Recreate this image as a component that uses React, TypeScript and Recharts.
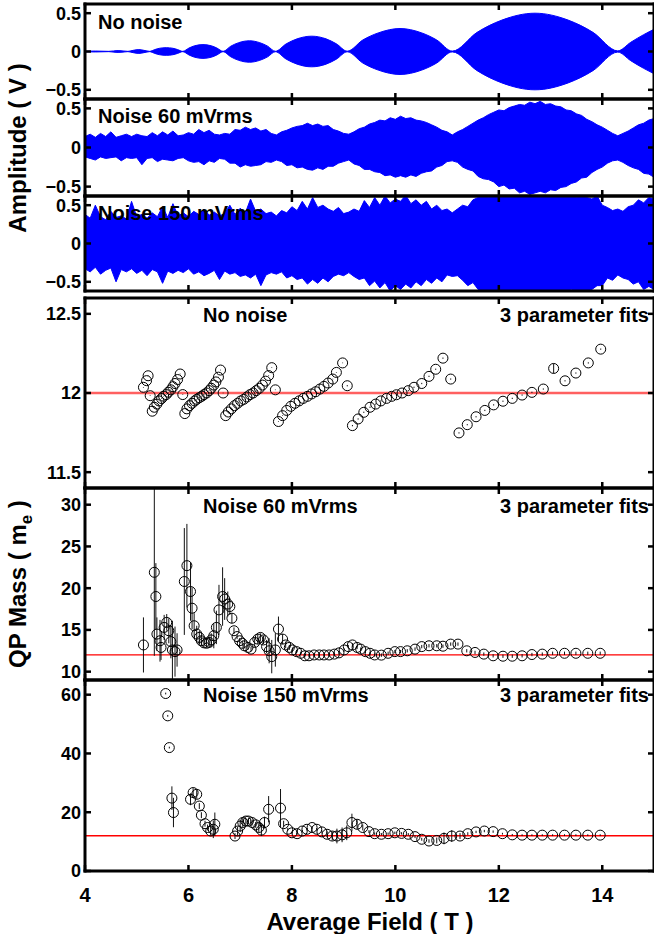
import React from 'react'
import { Area, ComposedChart, ErrorBar, ReferenceLine, Scatter, XAxis, YAxis } from 'recharts'

const FONT = '"Liberation Sans", Arial, Helvetica, sans-serif'
const W = 654

const FIELD_TICKS = [4, 6, 8, 10, 12, 14]
const AMP_TICKS = [-0.5, 0, 0.5]
const MASS0_TICKS = [11.5, 12, 12.5]
const MASS60_TICKS = [10, 15, 20, 25, 30]
const MASS150_TICKS = [0, 20, 40, 60]
const TRUE_MASS = 12

// clean trace: beat envelope (V)
const CLEAN_FIELD = [
  4.0, 4.2, 4.46, 4.64, 4.83, 4.93, 5.04, 5.14, 5.25, 5.35, 5.44, 5.57, 5.7, 5.79, 5.89,
  6.01, 6.12, 6.28, 6.44, 6.55, 6.67, 6.82, 6.97, 7.18, 7.38, 7.53, 7.68, 7.89, 8.1, 8.38,
  8.66, 8.86, 9.07, 9.37, 9.68, 10.09, 10.5, 10.8, 11.1, 11.58, 12.06, 12.7, 13.34, 13.82,
  14.3, 14.55, 14.8, 15.0,
]
const CLEAN_ENV = [
  0.004, 0.006, 0.002, 0.012, 0.002, 0.015, 0.025, 0.015, 0.002, 0.025, 0.042, 0.05, 0.042,
  0.025, 0.002, 0.045, 0.075, 0.09, 0.075, 0.045, 0.002, 0.07, 0.115, 0.14, 0.115, 0.07,
  0.003, 0.1, 0.165, 0.2, 0.165, 0.1, 0.004, 0.15, 0.245, 0.3, 0.245, 0.15, 0.005, 0.25,
  0.41, 0.5, 0.41, 0.25, 0.008, 0.12, 0.22, 0.29,
]

// noisy traces: upper / lower edge of the blue band, every 0.1 T
const NOISY_FIELD = [
  4.0, 4.1, 4.2, 4.3, 4.4, 4.5, 4.6, 4.7, 4.8, 4.9,
  5.0, 5.1, 5.2, 5.3, 5.4, 5.5, 5.6, 5.7, 5.8, 5.9,
  6.0, 6.1, 6.2, 6.3, 6.4, 6.5, 6.6, 6.7, 6.8, 6.9,
  7.0, 7.1, 7.2, 7.3, 7.4, 7.5, 7.6, 7.7, 7.8, 7.9,
  8.0, 8.1, 8.2, 8.3, 8.4, 8.5, 8.6, 8.7, 8.8, 8.9,
  9.0, 9.1, 9.2, 9.3, 9.4, 9.5, 9.6, 9.7, 9.8, 9.9,
  10.0, 10.1, 10.2, 10.3, 10.4, 10.5, 10.6, 10.7, 10.8, 10.9,
  11.0, 11.1, 11.2, 11.3, 11.4, 11.5, 11.6, 11.7, 11.8, 11.9,
  12.0, 12.1, 12.2, 12.3, 12.4, 12.5, 12.6, 12.7, 12.8, 12.9,
  13.0, 13.1, 13.2, 13.3, 13.4, 13.5, 13.6, 13.7, 13.8, 13.9,
  14.0, 14.1, 14.2, 14.3, 14.4, 14.5, 14.6, 14.7, 14.8, 14.9,
  15.0,
]
const N60_HI = [
  0.14, 0.17, 0.13, 0.18, 0.14, 0.2, 0.13, 0.15, 0.17, 0.14,
  0.17, 0.15, 0.14, 0.19, 0.15, 0.2, 0.16, 0.21, 0.15, 0.16,
  0.19, 0.17, 0.23, 0.19, 0.22, 0.17, 0.16, 0.18, 0.17, 0.23,
  0.22, 0.26, 0.23, 0.25, 0.21, 0.23, 0.18, 0.16, 0.2, 0.22,
  0.25, 0.27, 0.28, 0.31, 0.28, 0.3, 0.27, 0.28, 0.23, 0.21,
  0.18, 0.17, 0.2, 0.24, 0.26, 0.3, 0.32, 0.35, 0.34, 0.38,
  0.36, 0.4, 0.37, 0.38, 0.35, 0.34, 0.32, 0.29, 0.26, 0.22,
  0.2, 0.16, 0.2, 0.23, 0.27, 0.31, 0.35, 0.38, 0.42, 0.45,
  0.48, 0.47, 0.51, 0.53, 0.55, 0.54, 0.58, 0.56, 0.59, 0.55,
  0.56, 0.53, 0.52, 0.48, 0.47, 0.43, 0.41, 0.36, 0.33, 0.29,
  0.26, 0.22, 0.18, 0.15, 0.18, 0.21, 0.25, 0.29, 0.31, 0.35,
  0.37,
]
const N60_LO = [
  -0.12, -0.14, -0.16, -0.12, -0.14, -0.13, -0.12, -0.17, -0.13, -0.14,
  -0.13, -0.22, -0.14, -0.13, -0.18, -0.15, -0.16, -0.17, -0.14, -0.13,
  -0.17, -0.19, -0.18, -0.22, -0.17, -0.19, -0.14, -0.15, -0.2, -0.2,
  -0.25, -0.22, -0.24, -0.23, -0.22, -0.18, -0.19, -0.16, -0.18, -0.23,
  -0.22, -0.26, -0.25, -0.28, -0.29, -0.26, -0.28, -0.24, -0.24, -0.2,
  -0.18, -0.16, -0.21, -0.23, -0.28, -0.28, -0.31, -0.32, -0.36, -0.35,
  -0.38, -0.36, -0.38, -0.35, -0.37, -0.33, -0.31, -0.3, -0.25, -0.23,
  -0.18, -0.17, -0.19, -0.25, -0.28, -0.3, -0.37, -0.4, -0.41, -0.44,
  -0.5, -0.48, -0.53, -0.52, -0.58, -0.56, -0.6, -0.58, -0.56, -0.58,
  -0.54, -0.55, -0.51, -0.5, -0.46, -0.44, -0.39, -0.38, -0.32, -0.28,
  -0.25, -0.2, -0.17, -0.16, -0.19, -0.23, -0.26, -0.28, -0.33, -0.34,
  -0.38,
]
const N150_HI = [
  0.38, 0.33, 0.5, 0.35, 0.31, 0.42, 0.34, 0.36, 0.32, 0.55,
  0.35, 0.38, 0.33, 0.4, 0.35, 0.48, 0.34, 0.52, 0.36, 0.4,
  0.35, 0.42, 0.38, 0.45, 0.37, 0.41, 0.36, 0.39, 0.5, 0.38,
  0.46, 0.4, 0.58, 0.42, 0.45, 0.39, 0.41, 0.36, 0.43, 0.4,
  0.48, 0.43, 0.55, 0.45, 0.6, 0.47, 0.5, 0.45, 0.42, 0.47,
  0.39, 0.41, 0.45, 0.42, 0.56, 0.47, 0.6, 0.5, 0.62, 0.53,
  0.58, 0.55, 0.63, 0.52, 0.57, 0.5, 0.55, 0.45, 0.5, 0.43,
  0.45, 0.4, 0.45, 0.5, 0.48, 0.57, 0.6, 0.64, 0.6, 0.65,
  0.64, 0.65, 0.63, 0.65, 0.64, 0.65, 0.65, 0.64, 0.65, 0.64,
  0.65, 0.63, 0.64, 0.62, 0.64, 0.6, 0.62, 0.6, 0.58, 0.62,
  0.5, 0.47, 0.43, 0.45, 0.42, 0.48, 0.5, 0.57, 0.53, 0.6,
  0.58,
]
const N150_LO = [
  -0.33, -0.37, -0.31, -0.4, -0.35, -0.32, -0.5, -0.34, -0.37, -0.33,
  -0.39, -0.35, -0.42, -0.34, -0.37, -0.52, -0.36, -0.39, -0.35, -0.38,
  -0.33, -0.4, -0.37, -0.42, -0.39, -0.35, -0.47, -0.36, -0.4, -0.38,
  -0.43, -0.41, -0.45, -0.4, -0.55, -0.41, -0.38, -0.4, -0.37, -0.45,
  -0.42, -0.47, -0.45, -0.53, -0.47, -0.52, -0.45, -0.5, -0.43, -0.4,
  -0.42, -0.38, -0.43, -0.47, -0.45, -0.55, -0.49, -0.58, -0.51, -0.62,
  -0.55, -0.6, -0.53, -0.58, -0.5, -0.55, -0.47, -0.52, -0.45, -0.5,
  -0.41, -0.43, -0.42, -0.48, -0.55, -0.51, -0.6, -0.64, -0.62, -0.63,
  -0.65, -0.64, -0.65, -0.63, -0.65, -0.64, -0.65, -0.65, -0.64, -0.65,
  -0.63, -0.65, -0.62, -0.64, -0.6, -0.63, -0.61, -0.62, -0.6, -0.55,
  -0.55, -0.45, -0.48, -0.41, -0.45, -0.47, -0.53, -0.5, -0.6, -0.56,
  -0.6,
]

// fitted QP masses (m_e), no noise
const FIT0_FIELD = [
  5.13, 5.19, 5.22, 5.26, 5.3, 5.34, 5.39, 5.43, 5.48, 5.52, 5.57, 5.61, 5.66, 5.7, 5.74, 5.79, 5.84, 5.89,
  5.93, 5.97, 6.02, 6.07, 6.12, 6.16, 6.21, 6.26, 6.3, 6.35, 6.4, 6.44, 6.49, 6.53, 6.58, 6.62, 6.67,
  6.72, 6.77, 6.83, 6.89, 6.95, 7.01, 7.07, 7.13, 7.19, 7.25, 7.31, 7.37, 7.43, 7.49, 7.55, 7.61, 7.68,
  7.74, 7.82, 7.9, 7.98, 8.06, 8.14, 8.22, 8.3, 8.38, 8.46, 8.54, 8.62, 8.7, 8.79, 8.86, 8.98, 9.07,
  9.17, 9.28, 9.39, 9.51, 9.62, 9.72, 9.83, 9.93, 10.02, 10.13, 10.25, 10.36, 10.51, 10.65, 10.78, 10.92, 11.07,
  11.23, 11.39, 11.56, 11.73, 11.9, 12.08, 12.26, 12.45, 12.64, 12.86, 13.06, 13.28, 13.49, 13.73, 13.97,
]
const FIT0_MASS = [
  12.036, 12.078, 12.109, 11.983, 11.885, 11.91, 11.93, 11.95, 11.965, 11.98, 11.99, 12.005, 12.02, 12.04, 12.06, 12.085, 12.12, 11.99,
  11.87, 11.9, 11.92, 11.935, 11.95, 11.96, 11.97, 11.98, 11.99, 12.0, 12.015, 12.03, 12.05, 12.07, 12.1, 12.145, 12.0,
  11.857, 11.88, 11.9, 11.92, 11.935, 11.95, 11.96, 11.975, 11.99, 12.0, 12.015, 12.03, 12.05, 12.075, 12.11, 12.16, 12.02,
  11.82, 11.857, 11.89, 11.916, 11.935, 11.95, 11.966, 11.979, 11.994, 12.008, 12.025, 12.042, 12.063, 12.088, 12.13, 12.19, 12.046,
  11.794, 11.836, 11.878, 11.91, 11.93, 11.95, 11.966, 11.979, 11.989, 12.0, 12.015, 12.036, 12.06, 12.105, 12.15, 12.22, 12.088,
  11.748, 11.8, 11.85, 11.89, 11.925, 11.948, 11.966, 11.987, 12.004, 12.025, 12.155, 12.077, 12.126, 12.19, 12.277,
]
const FIT0_ERR = [
  0.002, 0.002, 0.002, 0.002, 0.002, 0.002, 0.002, 0.002, 0.002, 0.002, 0.002, 0.002, 0.002, 0.002, 0.002, 0.002, 0.002, 0.002,
  0.002, 0.002, 0.002, 0.002, 0.002, 0.002, 0.002, 0.002, 0.002, 0.002, 0.002, 0.002, 0.002, 0.002, 0.002, 0.002, 0.002,
  0.002, 0.002, 0.002, 0.002, 0.002, 0.002, 0.002, 0.002, 0.002, 0.002, 0.002, 0.002, 0.002, 0.002, 0.002, 0.002, 0.002,
  0.002, 0.002, 0.002, 0.002, 0.002, 0.002, 0.002, 0.002, 0.002, 0.002, 0.002, 0.002, 0.002, 0.002, 0.002, 0.002, 0.004,
  0.004, 0.004, 0.004, 0.004, 0.004, 0.004, 0.004, 0.004, 0.004, 0.004, 0.004, 0.004, 0.004, 0.004, 0.004, 0.004, 0.004,
  0.004, 0.004, 0.004, 0.004, 0.004, 0.004, 0.004, 0.004, 0.004, 0.004, 0.03, 0.004, 0.004, 0.004, 0.004,
]

// 60 mVrms noise
const FIT60_FIELD = [
  5.13, 5.34, 5.37, 5.39, 5.45, 5.47, 5.53, 5.58, 5.62, 5.66, 5.69, 5.74, 5.78,
  5.92, 5.97, 6.04, 6.07, 6.11, 6.16, 6.21, 6.25, 6.3, 6.35, 6.4, 6.44, 6.49, 6.54, 6.59,
  6.66, 6.7, 6.76, 6.8, 6.84, 6.88, 6.94, 6.99, 7.04, 7.08, 7.15, 7.21, 7.28, 7.34, 7.39,
  7.45, 7.51, 7.56, 7.61, 7.68, 7.74, 7.82, 7.88, 7.95, 8.01, 8.09, 8.17, 8.25, 8.33, 8.43,
  8.53, 8.62, 8.72, 8.82, 8.91, 9.01, 9.09, 9.17, 9.26, 9.33, 9.42, 9.51, 9.6, 9.73, 9.86,
  9.99, 10.1, 10.23, 10.38, 10.51, 10.65, 10.8, 10.92, 11.07, 11.21, 11.38, 11.54, 11.71,
  11.89, 12.08, 12.26, 12.45, 12.64, 12.84, 13.04, 13.27, 13.49, 13.72, 13.96,
]
const FIT60_MASS = [
  13.2, 21.9, 19.0, 14.5, 13.7, 12.9, 15.3, 15.9, 14.9, 13.6, 12.6, 12.4, 12.6,
  20.8, 22.7, 19.6, 17.6, 15.5, 14.5, 14.1, 13.7, 13.45, 13.4, 13.5, 13.8, 14.3, 15.3, 17.4,
  19.0, 18.7, 18.1, 17.8, 16.4, 14.9, 14.2, 13.7, 13.4, 13.1, 12.9, 12.7, 13.5, 13.9, 14.1,
  13.8, 13.0, 12.5, 11.8, 12.6, 15.1, 13.9, 13.2, 12.9, 12.6, 12.4, 12.2, 11.9, 11.9, 12.0,
  12.0, 12.0, 12.0, 12.1, 12.25, 12.6, 13.0, 13.2, 12.9, 12.7, 12.4, 12.2, 12.0, 11.98, 12.2,
  12.4, 12.4, 12.5, 12.7, 13.0, 13.1, 13.1, 13.05, 13.3, 13.3, 12.5, 12.3, 12.1,
  11.9, 11.85, 11.85, 11.9, 12.05, 12.1, 12.2, 12.2, 12.2, 12.2, 12.2,
]
const FIT60_ERR = [
  3.3, 10, 4, 2, 2.5, 1.5, 1.5, 1, 1.5, 2, 3.5, 3, 2,
  6.4, 5, 3.5, 2.5, 1.5, 1, 0.8, 0.6, 0.5, 0.5, 0.6, 0.8, 1.5, 2, 3,
  3.5, 2.5, 1.5, 1, 0.6, 0.4, 0.3, 0.3, 0.3, 0.3, 0.3, 0.3, 0.5, 0.6, 0.5,
  0.5, 0.8, 1.5, 2, 2, 1.5, 0.6, 0.4, 0.3, 0.3, 0.2, 0.2, 0.2, 0.2, 0.2,
  0.2, 0.2, 0.2, 0.2, 0.2, 0.2, 0.2, 0.2, 0.2, 0.2, 0.2, 0.2, 0.2, 0.2, 0.2,
  0.2, 0.2, 0.2, 0.2, 0.2, 0.2, 0.2, 0.2, 0.2, 0.2, 0.2, 0.2, 0.2,
  0.2, 0.2, 0.2, 0.2, 0.2, 0.2, 0.2, 0.2, 0.2, 0.2, 0.2,
]

// 150 mVrms noise
const FIT150_FIELD = [
  5.56, 5.6, 5.63, 5.68, 5.71, 6.04, 6.09, 6.16, 6.21, 6.25, 6.32, 6.37, 6.43, 6.48, 6.51,
  6.9, 6.95, 7.0, 7.05, 7.11, 7.16, 7.23, 7.3, 7.36, 7.41, 7.47, 7.55, 7.78, 7.84, 7.92,
  8.0, 8.1, 8.2, 8.29, 8.39, 8.48, 8.58, 8.68, 8.78, 8.87, 8.97, 9.06, 9.16, 9.26, 9.37,
  9.49, 9.6, 9.73, 9.86, 9.99, 10.12, 10.25, 10.38, 10.51, 10.65, 10.8, 10.94, 11.09, 11.25,
  11.4, 11.56, 11.72, 11.89, 12.07, 12.26, 12.45, 12.64, 12.84, 13.04, 13.27, 13.49, 13.72, 13.96,
]
const FIT150_MASS = [
  60.4, 52.8, 42.0, 24.8, 19.9, 24.4, 26.7, 26.1, 22.1, 19.0, 16.1, 14.8, 13.6, 14.2, 15.9,
  11.9, 13.6, 15.3, 16.5, 17.0, 17.0, 16.5, 15.7, 14.8, 13.9, 16.5, 21.0, 21.4, 16.1, 14.2,
  13.0, 12.7, 13.6, 14.2, 14.8, 14.2, 13.3, 12.5, 11.9, 11.9, 12.3, 13.0, 16.5, 15.9, 14.8,
  13.4, 12.7, 12.5, 12.7, 13.0, 12.8, 12.5, 11.7, 10.8, 10.2, 10.4, 11.1, 11.9, 11.9,
  12.7, 13.3, 13.6, 13.4, 12.7, 12.3, 12.2, 12.2, 12.2, 12.2, 12.2, 12.2, 12.2, 12.2,
]
const FIT150_ERR = [
  0.3, 0.3, 0.3, 4, 5, 2, 1.5, 1.5, 1, 1, 1, 1, 1.5, 3, 4,
  1, 1.5, 2, 1.5, 1, 1, 1, 1, 1.5, 2, 2, 4.5, 6.5, 1, 0.5,
  0.4, 0.4, 0.4, 0.4, 0.4, 0.4, 0.5, 1, 1.5, 2.5, 2.5, 2.5, 3, 1.5, 1,
  0.5, 0.4, 0.4, 0.4, 0.4, 0.4, 0.4, 0.5, 0.5, 0.6, 1, 2, 2, 1,
  0.5, 0.4, 0.4, 0.4, 0.3, 0.3, 0.3, 0.3, 0.3, 0.3, 0.3, 0.3, 0.3, 0.3,
]

const cleanRows = CLEAN_FIELD.map((x, i) => ({ x, band: [-CLEAN_ENV[i], CLEAN_ENV[i]] }))
const n60Rows = NOISY_FIELD.map((x, i) => ({ x, band: [N60_LO[i], N60_HI[i]] }))
const n150Rows = NOISY_FIELD.map((x, i) => ({ x, band: [N150_LO[i], N150_HI[i]] }))
const fit0Rows = FIT0_FIELD.map((x, i) => ({ x, y: FIT0_MASS[i], err: FIT0_ERR[i] }))
const fit60Rows = FIT60_FIELD.map((x, i) => ({ x, y: FIT60_MASS[i], err: FIT60_ERR[i] }))
const fit150Rows = FIT150_FIELD.map((x, i) => ({ x, y: FIT150_MASS[i], err: FIT150_ERR[i] }))

const AXIS = { stroke: '#000', strokeWidth: 3, strokeLinecap: 'square' as const }
const TICK_LEN = 6
const tickFont = { fontFamily: FONT, fontWeight: 700, fontSize: 18, fill: '#000' }
const xTickFont = { ...tickFont, fontSize: 20 }
const fmt = (v: number) => (v < 0 ? '\u2212' + String(-v) : String(v))

function BottomTick({ x, y, payload, show }: any) {
  return (
    <g>
      <line x1={x} x2={x} y1={y} y2={y - TICK_LEN} stroke="#000" strokeWidth={2.5} />
      {show && (
        <text x={x} y={y + 31} textAnchor="middle" style={xTickFont}>
          {payload.value}
        </text>
      )}
    </g>
  )
}
function TopTick({ x, y }: any) {
  return <line x1={x} x2={x} y1={y} y2={y + TICK_LEN} stroke="#000" strokeWidth={2.5} />
}
function LeftTick({ x, y, payload }: any) {
  return (
    <g>
      <line x1={x} x2={x + TICK_LEN} y1={y} y2={y} stroke="#000" strokeWidth={2.5} />
      <text x={x - 4} y={y} dy="0.36em" textAnchor="end" style={tickFont}>
        {fmt(payload.value)}
      </text>
    </g>
  )
}
function RightTick({ x, y }: any) {
  return <line x1={x} x2={x - TICK_LEN} y1={y} y2={y} stroke="#000" strokeWidth={2.5} />
}

const Ring = (p: any) => <circle cx={p.cx} cy={p.cy} r={5} fill="none" stroke="#000" strokeWidth={1} />

function Panel({ top, h, domain, ticks, data, xLabels = false, children }: any) {
  const pad = 12
  const extra = xLabels ? 40 : 0
  const H = h + 2 * pad + extra
  return (
    <div style={{ position: 'absolute', left: 0, top: top - pad, width: W, height: H, overflow: 'hidden' }}>
      <ComposedChart
        width={W + 2}
        height={H}
        data={data}
        margin={{ top: pad - 1, right: 0, bottom: pad - 1 + extra, left: 35 }}
      >
        <XAxis
          xAxisId="b"
          type="number"
          dataKey="x"
          domain={[4, 15]}
          ticks={FIELD_TICKS}
          interval={0}
          allowDataOverflow
          height={1}
          tickSize={0}
          tickMargin={0}
          tickLine={false}
          axisLine={AXIS}
          tick={(p: any) => <BottomTick {...p} show={xLabels} />}
        />
        <XAxis
          xAxisId="t"
          orientation="top"
          type="number"
          dataKey="x"
          domain={[4, 15]}
          ticks={FIELD_TICKS}
          interval={0}
          allowDataOverflow
          height={1}
          tickSize={0}
          tickMargin={0}
          tickLine={false}
          axisLine={AXIS}
          tick={(p: any) => <TopTick {...p} />}
        />
        <YAxis
          yAxisId="l"
          type="number"
          domain={domain}
          ticks={ticks}
          interval={0}
          allowDataOverflow
          width={50}
          tickSize={0}
          tickMargin={0}
          tickLine={false}
          axisLine={AXIS}
          tick={(p: any) => <LeftTick {...p} />}
        />
        <YAxis
          yAxisId="r"
          orientation="right"
          type="number"
          domain={domain}
          ticks={ticks}
          interval={0}
          allowDataOverflow
          width={2}
          tickSize={0}
          tickMargin={0}
          tickLine={false}
          axisLine={AXIS}
          tick={(p: any) => <RightTick {...p} />}
        />
        {children}
      </ComposedChart>
    </div>
  )
}

function traceArea(curve: 'monotone' | 'linear') {
  return (
    <Area
      xAxisId="b"
      yAxisId="l"
      dataKey="band"
      type={curve}
      stroke="#0000ff"
      strokeWidth={1}
      fill="#0000ff"
      fillOpacity={1}
      dot={false}
      activeDot={false}
      isAnimationActive={false}
    />
  )
}

function fitScatter(rows: any[]) {
  return (
    <Scatter xAxisId="b" yAxisId="l" data={rows} dataKey="y" shape={Ring} isAnimationActive={false}>
      <ErrorBar dataKey="err" direction="y" width={0} stroke="#111" strokeWidth={1} isAnimationActive={false} />
    </Scatter>
  )
}

export default function App() {
  const label = { fontFamily: FONT, fontWeight: 700, fontSize: 20, fill: '#000' }
  return (
    <div style={{ position: 'absolute', left: 0, top: 0, width: W, height: 934, overflow: 'hidden', background: '#fff' }}>
      <Panel top={4} h={95} domain={[-0.62, 0.62]} ticks={AMP_TICKS} data={cleanRows}>
        {traceArea('monotone')}
      </Panel>
      <Panel top={99} h={97} domain={[-0.62, 0.62]} ticks={AMP_TICKS} data={n60Rows}>
        {traceArea('linear')}
      </Panel>
      <Panel top={196} h={95} domain={[-0.62, 0.62]} ticks={AMP_TICKS} data={n150Rows}>
        {traceArea('linear')}
      </Panel>
      <Panel top={298} h={190} domain={[11.4, 12.6]} ticks={MASS0_TICKS}>
        <ReferenceLine xAxisId="b" yAxisId="l" y={TRUE_MASS} stroke="#ff6060" strokeWidth={2.5} />
        {fitScatter(fit0Rows)}
      </Panel>
      <Panel top={488} h={192} domain={[9, 32]} ticks={MASS60_TICKS}>
        <ReferenceLine xAxisId="b" yAxisId="l" y={TRUE_MASS} stroke="#ff0000" strokeWidth={1.3} />
        {fitScatter(fit60Rows)}
      </Panel>
      <Panel top={680} h={191} domain={[0, 65]} ticks={MASS150_TICKS} xLabels>
        <ReferenceLine xAxisId="b" yAxisId="l" y={TRUE_MASS} stroke="#ff0000" strokeWidth={1.3} />
        {fitScatter(fit150Rows)}
      </Panel>

      <svg width={W} height={934} style={{ position: 'absolute', left: 0, top: 0, pointerEvents: 'none' }}>
        <text x={98} y={29} style={label}>No noise</text>
        <text x={98} y={123} style={label}>Noise 60 mVrms</text>
        <text x={98} y={220} style={label}>Noise 150 mVrms</text>
        <text x={203} y={322} style={label}>No noise</text>
        <text x={500} y={322} style={label}>3 parameter fits</text>
        <text x={203} y={513} style={label}>Noise 60 mVrms</text>
        <text x={500} y={513} style={label}>3 parameter fits</text>
        <text x={203} y={702} style={label}>Noise 150 mVrms</text>
        <text x={500} y={702} style={label}>3 parameter fits</text>
        <text x={370} y={930} textAnchor="middle" style={{ ...label, fontSize: 24 }}>
          Average Field ( T )
        </text>
        <text transform="translate(26,148) rotate(-90)" textAnchor="middle" style={{ ...label, fontSize: 24 }}>
          Amplitude ( V )
        </text>
        <text transform="translate(26,584) rotate(-90)" textAnchor="middle" style={{ ...label, fontSize: 24 }}>
          QP Mass ( m
          <tspan dy={6} fontSize={17}>e</tspan>
          <tspan dy={-6}> )</tspan>
        </text>
      </svg>
    </div>
  )
}
